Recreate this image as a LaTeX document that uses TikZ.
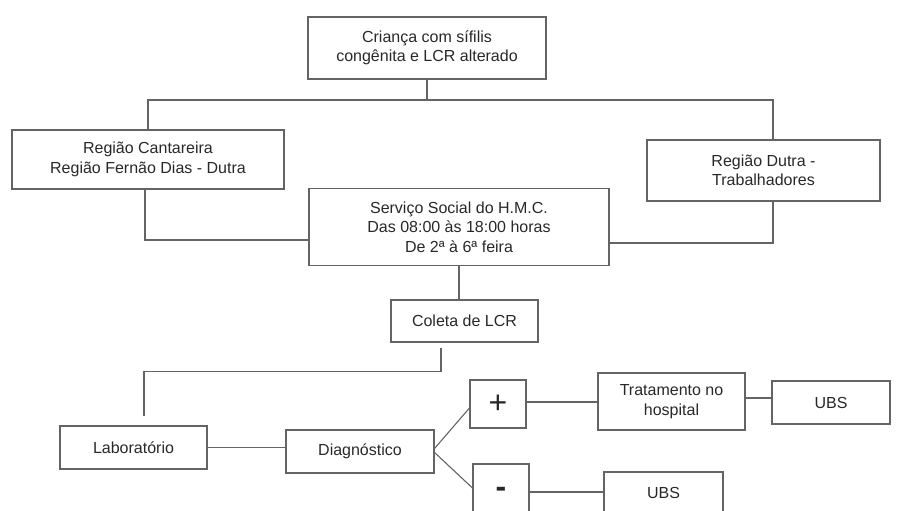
\documentclass[tikz,border=0pt]{standalone}
\usepackage{fontspec}
\setmainfont{Liberation Sans}
\usepackage{xcolor}
\usetikzlibrary{calc}
\definecolor{linha}{RGB}{100,100,100}
\definecolor{texto}{RGB}{40,40,40}
\tikzstyle{caixa}=[draw=linha, line width=1.1pt, text=texto, align=center,
		inner sep=0, font=\fontsize{16}{19.5}\selectfont]
\tikzstyle{sinal}=[caixa, font=\fontsize{32}{32}\selectfont]
\tikzstyle{liga}=[draw=linha, line width=1.1pt]

\begin{document}
\begin{tikzpicture}[x=1pt,y=-1pt]
                \useasboundingbox (0,0) rectangle (903,511);
                \clip (0,0) rectangle (903,511);
                % caixas
                \node[caixa, minimum width=238, minimum height=62] (crianca) at (427,48) {Criança com sífilis\\congênita e LCR alterado};
                \node[caixa, minimum width=272, minimum height=59] (cant) at (148,159.5) {Região Cantareira\\Região Fernão Dias - Dutra};
                \node[caixa, minimum width=233, minimum height=61] (dutra) at (763.5,170.5) {Região Dutra -\\Trabalhadores};
                \node[caixa, minimum width=300, minimum height=77] (servico) at (459,227) {Serviço Social do H.M.C.\\Das 08:00 às 18:00 horas\\De 2ª à 6ª feira};
                \node[caixa, minimum width=147, minimum height=42] (coleta) at (464.5,321) {Coleta de LCR};
                \node[caixa, minimum width=147, minimum height=43] (lab) at (133.5,447.5) {Laboratório};
                \node[caixa, minimum width=148, minimum height=43] (diag) at (360,451.5) {Diagnóstico};
                \node[sinal, minimum width=56, minimum height=48] (mais) at (498,404) {\raisebox{-2pt}{+}};
                \node[sinal, minimum width=56, minimum height=56] (menos) at (501,492) {\raisebox{-5pt}{\textbf{-}}};
                \node[caixa, minimum width=147, minimum height=57] (trat) at (671.5,401.5) {Tratamento no\\hospital};
                \node[caixa, minimum width=118, minimum height=43] (ubs) at (831,402.5) {UBS};
                \node[caixa, minimum width=119, minimum height=42] (ubsb) at (663.5,493) {UBS};
                % ligacoes
                \coordinate (topo) at (427,100);
                \draw[liga] (crianca) -- (topo);
                \draw[liga] (cant.north) |- (topo) -| ([xshift=9.5pt]dutra.north);
                \draw[liga] ([xshift=-3pt]cant.south) |- ([yshift=-13pt]servico.west);
                \draw[liga] ([xshift=9.5pt]dutra.south) |- ([yshift=-16pt]servico.east);
                \draw[liga] (servico) -- (servico |- coleta.north);
                \draw[liga, shorten <=5pt, shorten >=9pt] ([xshift=-23.5pt]coleta.south) -- ++(0,29) -| ([xshift=10.5pt]lab.north);
                \draw[liga] (lab.east) -- (lab.east -| diag.west);
                \draw[liga] ([yshift=3pt]diag.east) -- ([yshift=-4pt]mais.west);
                \draw[liga] ([yshift=-1pt]diag.east) -- ([yshift=4pt]menos.west);
                \draw[liga] ([yshift=2pt]mais.east) -- ([yshift=2pt]mais.east -| trat.west);
                \draw[liga] ([yshift=3.5pt]trat.east) -- ([yshift=3.5pt]trat.east -| ubs.west);
                \draw[liga] (menos.east) -- (menos.east -| ubsb.west);
\end{tikzpicture}
\end{document}
